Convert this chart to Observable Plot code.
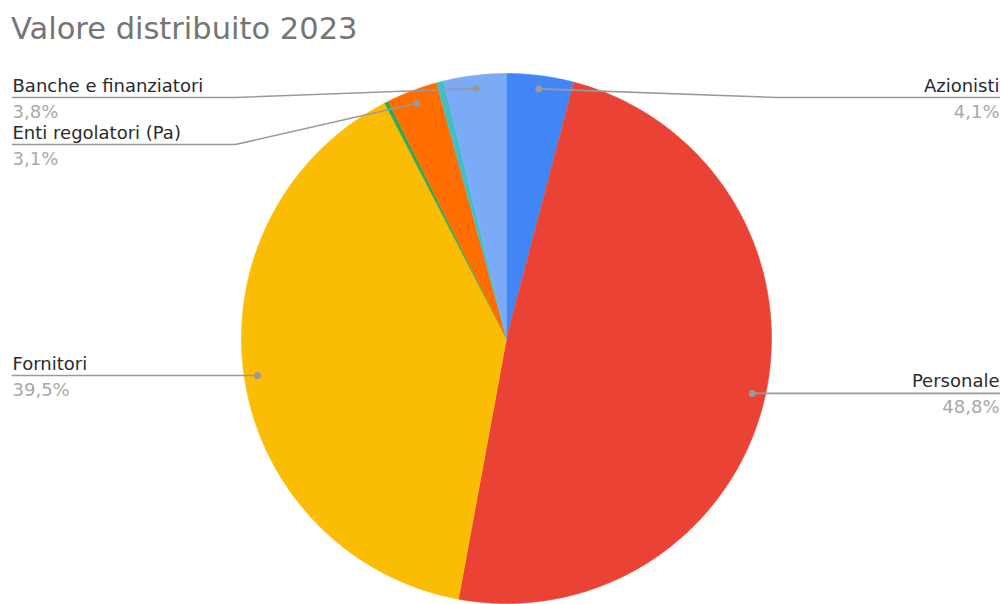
<!DOCTYPE html>
<html><head><meta charset="utf-8">
<script src="https://cdn.jsdelivr.net/npm/d3@7"></script>
<script src="https://cdn.jsdelivr.net/npm/@observablehq/plot@0.6"></script>
<style>
html,body{margin:0;padding:0;background:#fff;}
#wrap{position:relative;width:1002px;height:604px;overflow:hidden;}
#wrap svg{position:absolute;left:0;top:0;}
#title{position:absolute;left:11px;top:14px;font-family:"DejaVu Sans", Verdana, sans-serif;font-size:30.5px;line-height:30px;color:#757575;white-space:nowrap;z-index:2;}
</style></head><body>
<div id="wrap"><div id="title">Valore distribuito 2023</div></div>
<script>
// ---- data ----
const categories = ["Azionisti", "Personale", "Fornitori", "Comunità", "Enti regolatori (Pa)", "Sistema impresa", "Banche e finanziatori"];
const values = [4.1, 48.8, 39.5, 0.25, 3.1, 0.45, 3.8];
const colors = ["#4285f4", "#ea4335", "#fbbc04", "#34a853", "#ff6d01", "#46bdc6", "#7baaf7"];
const labelled = ["Azionisti", "Personale", "Fornitori", "Enti regolatori (Pa)", "Banche e finanziatori"];

// ---- layout ----
const W = 1002, H = 604, CX = 506, CY = 338, R = 265;
const total = d3.sum(values);
const fmt = v => (v / total * 100).toFixed(1).replace(".", ",") + "%";

// slice polygons (unit coordinates, angles clockwise from top)
const slicePts = [];
const slices = [];
let acc = 0;
categories.forEach((name, i) => {
  const a0 = acc / total * 2 * Math.PI;
  acc += values[i];
  const a1 = acc / total * 2 * Math.PI;
  slices.push({name, value: values[i], a0, a1, mid: (a0 + a1) / 2});
  slicePts.push({name, x: 0, y: 0});
  const n = Math.max(2, Math.ceil((a1 - a0) / (Math.PI / 360)));
  for (let k = 0; k <= n; k++) {
    const a = a0 + (a1 - a0) * k / n;
    slicePts.push({name, x: Math.sin(a), y: Math.cos(a)});
  }
});

// labels
const DOT_R = 0.95, TOP_PX = 97, GAP_PX = 47;
const labels = slices.filter(s => labelled.includes(s.name)).map(s => ({
  name: s.name,
  pct: fmt(s.value),
  side: Math.sin(s.mid) >= 0 ? 1 : -1,
  dx: DOT_R * Math.sin(s.mid),
  dy: DOT_R * Math.cos(s.mid)
}));
for (const side of [-1, 1]) {
  const group = labels.filter(l => l.side === side).sort((a, b) => b.dy - a.dy);
  let prev = -Infinity;
  for (const l of group) {
    const dotPx = CY - l.dy * R;
    const linePx = Math.max(dotPx, prev + GAP_PX, TOP_PX);
    prev = linePx;
    l.ly = (CY - linePx) / R;
    l.kx = side * (R + 6) / R;
    l.ex = side > 0 ? (W - 3 - CX) / R : (12 - CX) / R;
  }
}
const leftLabels = labels.filter(l => l.side < 0);
const rightLabels = labels.filter(l => l.side > 0);
const leaderPts = labels.flatMap(l => [
  {name: l.name, x: l.dx, y: l.dy},
  {name: l.name, x: l.kx, y: l.ly},
  {name: l.name, x: l.ex, y: l.ly}
]);

const nameStyle = {x: "ex", y: "ly", text: "name", lineAnchor: "bottom", dy: -6, fontSize: 18, fill: "#2b2b2b"};
const pctStyle = {x: "ex", y: "ly", text: "pct", lineAnchor: "bottom", dy: 20, fontSize: 18, fill: "#a8a8a8"};

const chart = Plot.plot({
  width: W, height: H,
  marginLeft: 0, marginRight: 0, marginTop: 0, marginBottom: 0,
  x: {domain: [-CX / R, (W - CX) / R], range: [0, W], axis: null},
  y: {domain: [-(H - CY) / R, CY / R], range: [H, 0], axis: null},
  color: {domain: categories, range: colors},
  style: {fontFamily: "'DejaVu Sans', Verdana, sans-serif", background: "transparent"},
  marks: [
    Plot.line(slicePts, {x: "x", y: "y", z: "name", fill: "name", stroke: "name", strokeWidth: 0.6, curve: "linear"}),
    Plot.line(leaderPts, {x: "x", y: "y", z: "name", stroke: "#9a9a9a", strokeWidth: 1.6, curve: "linear"}),
    Plot.dot(labels, {x: "dx", y: "dy", r: 3.5, fill: "#9a9a9a", stroke: "none"}),
    Plot.text(leftLabels, {...nameStyle, textAnchor: "start"}),
    Plot.text(leftLabels, {...pctStyle, textAnchor: "start"}),
    Plot.text(rightLabels, {...nameStyle, textAnchor: "end"}),
    Plot.text(rightLabels, {...pctStyle, textAnchor: "end"})
  ]
});
document.getElementById("wrap").appendChild(chart);
</script>
</body></html>
